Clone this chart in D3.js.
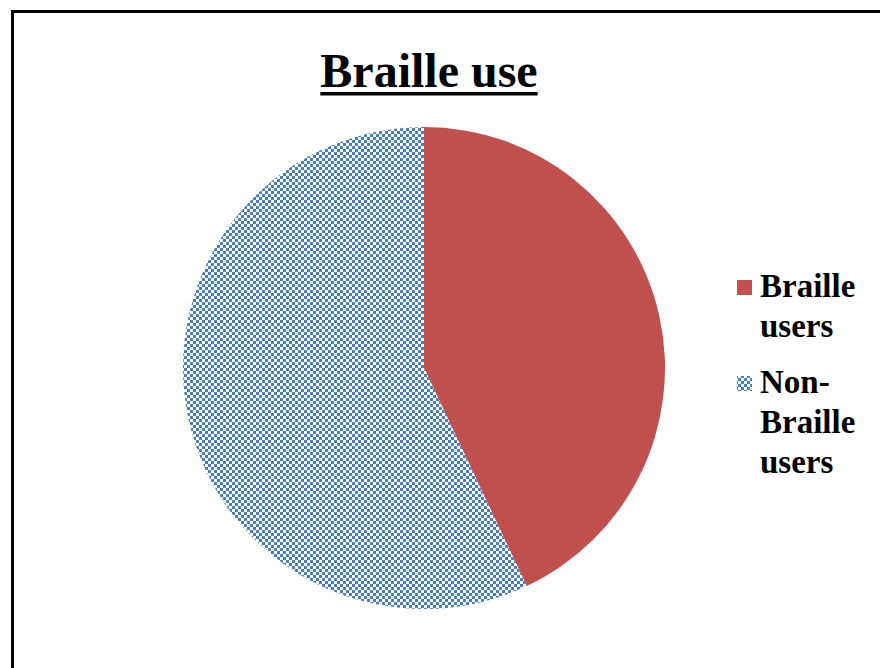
<!DOCTYPE html>
<html><head><meta charset="utf-8">
<script src="https://cdn.jsdelivr.net/npm/d3@7"></script>
<style>body{margin:0;background:#fff}svg{display:block}</style>
</head><body>
<script>
const categories = ["Braille users", "Non-Braille users"];
const values = [43, 57];
const legendLines = [["Braille", "users"], ["Non-", "Braille", "users"]];
const title = "Braille use";

const FONT = "Liberation Serif, Times New Roman, Times, DejaVu Serif, serif";
const W = 880, H = 668;
const svg = d3.select("body").append("svg").attr("width", W).attr("height", H);
const defs = svg.append("defs");
const pat = defs.append("pattern").attr("id", "checker").attr("patternUnits", "userSpaceOnUse")
  .attr("width", 6).attr("height", 6);
pat.append("rect").attr("width", 6).attr("height", 6).attr("fill", "#ffffff");
pat.append("rect").attr("x", 0).attr("y", 0).attr("width", 3).attr("height", 3).attr("fill", "#4a7ebb");
pat.append("rect").attr("x", 3).attr("y", 3).attr("width", 3).attr("height", 3).attr("fill", "#4a7ebb");

svg.append("rect").attr("width", W).attr("height", H).attr("fill", "#fff");
svg.append("path").attr("d", "M12.5,668 V11.5 H880").attr("fill", "none").attr("stroke", "#000").attr("stroke-width", 3);

const fills = ["#c0504d", "url(#checker)"];
const color = d3.scaleOrdinal().domain(categories).range(fills);

const cx = 424, cy = 368, r = 241;
const pie = d3.pie().sort(null).value(d => d.v);
const arc = d3.arc().innerRadius(0).outerRadius(r);
const data = categories.map((c, i) => ({c, v: values[i]}));
svg.append("g").attr("transform", `translate(${cx},${cy})`)
  .selectAll("path").data(pie(data)).join("path")
  .attr("d", arc).attr("fill", d => color(d.data.c));

const t = svg.append("text").attr("x", 429).attr("y", 87).attr("text-anchor", "middle")
  .style("font-family", FONT).style("font-weight", "bold")
  .style("font-size", "48px").attr("fill", "#000").text(title);
const tb = t.node().getBBox();
svg.append("rect").attr("x", tb.x).attr("y", 92).attr("width", tb.width).attr("height", 3.5).attr("fill", "#000");

const groupY = [297, 393];
const lg = svg.append("g");
categories.forEach((c, i) => {
  const y0 = groupY[i];
  lg.append("rect").attr("x", 737).attr("y", y0 - 17).attr("width", 15).attr("height", 15)
    .attr("fill", color(c));
  legendLines[i].forEach((s, j) => {
    lg.append("text").attr("x", 760).attr("y", y0 + j * 40)
      .style("font-family", FONT).style("font-weight", "bold")
      .style("font-size", "33px").attr("fill", "#000").text(s);
  });
});
</script>
</body></html>
